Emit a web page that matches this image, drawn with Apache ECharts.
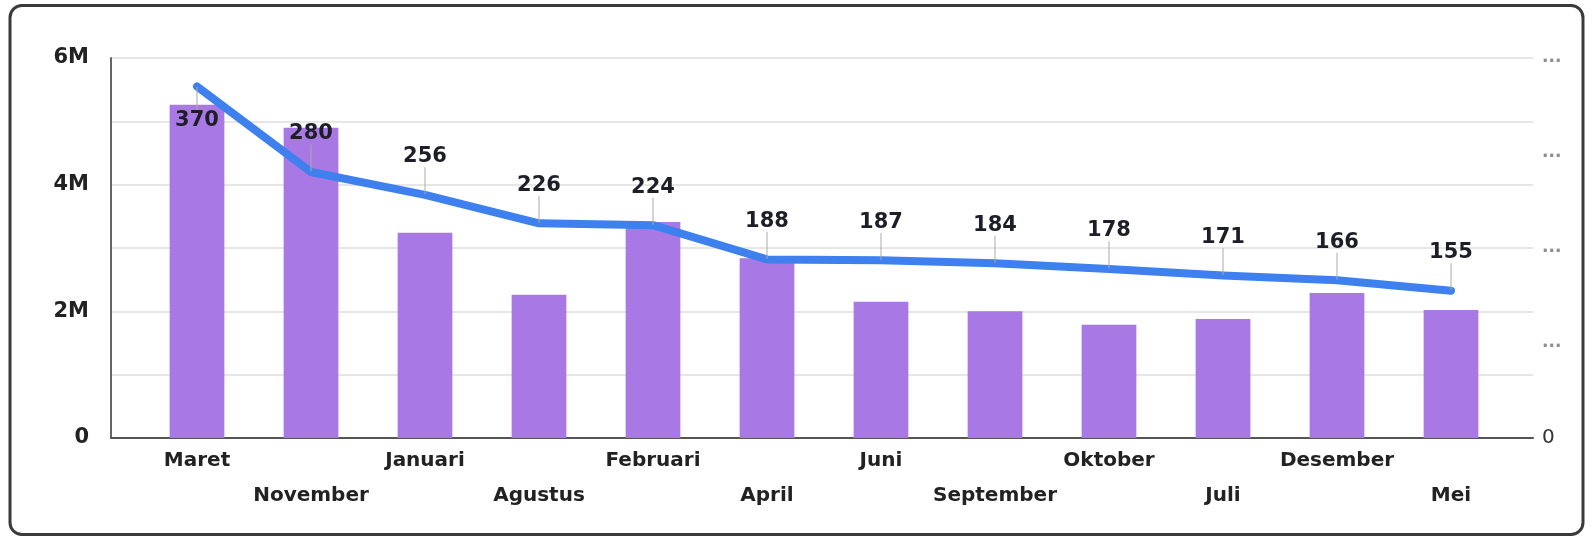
<!DOCTYPE html>
<html>
<head>
<meta charset="utf-8">
<script src="https://cdn.jsdelivr.net/npm/echarts@6/dist/echarts.min.js"></script>
<style>
    html, body { margin: 0; padding: 0; background: #fff; }
    #chart { width: 1594px; height: 541px; }
</style>
</head>
<body>
<div id="chart"></div>
<script>
// bulan, diurutkan menurut jumlah
var categories = ['Maret', 'November', 'Januari', 'Agustus', 'Februari', 'April',
    'Juni', 'September', 'Oktober', 'Juli', 'Desember', 'Mei'];
// batang (sumbu kiri)
var barValues = [5260000, 4900000, 3240000, 2260000, 3410000, 2840000,
    2150000, 2000000, 1790000, 1880000, 2290000, 2020000];
// garis (sumbu kanan)
var lineValues = [370, 280, 256, 226, 224, 188, 187, 184, 178, 171, 166, 155];
var leftTicks = [0, 1000000, 2000000, 3000000, 4000000, 5000000, 6000000];
var rightTicks = [0, 100, 200, 300, 400];

var font = "'DejaVu Sans', 'Liberation Sans', sans-serif";
var chart = echarts.init(document.getElementById('chart'));

var option = {
    backgroundColor: '#fff',
    animation: false,
    graphic: [{
        type: 'rect',
        shape: { x: 10, y: 5.5, width: 1573, height: 529, r: 12 },
        style: { fill: 'none', stroke: '#3a3a3a', lineWidth: 3 },
        silent: true,
        z: -1
    }],
    grid: [
        { left: 111, right: 61, top: 58, bottom: 103 },
        { left: 140, right: 86, top: 58, bottom: 103 }
    ],
    xAxis: [
        {
            gridIndex: 0,
            type: 'value',
            min: 0,
            max: 1,
            axisLine: { show: true, lineStyle: { color: '#555', width: 2 } },
            axisTick: { show: false },
            axisLabel: { show: false },
            splitLine: { show: false }
        },
        {
            gridIndex: 1,
            type: 'category',
            data: categories,
            axisLine: { show: false },
            axisTick: { show: false },
            axisLabel: {
                interval: 0,
                margin: 5,
                lineHeight: 35,
                color: '#222',
                fontFamily: font,
                fontWeight: 'bold',
                fontSize: 20,
                formatter: function (v, i) {
                    return i % 2 ? '\n' + v : v;
                }
            }
        }
    ],
    yAxis: [
        {
            gridIndex: 0,
            type: 'value',
            min: leftTicks[0],
            max: leftTicks[leftTicks.length - 1],
            interval: 1000000,
            axisLine: { show: true, lineStyle: { color: '#666', width: 2 } },
            axisTick: { show: false },
            axisLabel: {
                margin: 22,
                color: '#222',
                fontFamily: font,
                fontWeight: 'bold',
                fontSize: 21,
                formatter: function (v) {
                    if (v % 2000000 !== 0) return '';
                    return v === 0 ? '0' : (v / 1000000) + 'M';
                }
            },
            splitLine: { show: true, lineStyle: { color: '#e6e6e6', width: 2 } }
        },
        {
            gridIndex: 0,
            type: 'value',
            position: 'right',
            min: rightTicks[0],
            max: rightTicks[rightTicks.length - 1],
            interval: 100,
            axisLine: { show: false },
            axisTick: { show: false },
            splitLine: { show: false },
            axisLabel: {
                margin: 9,
                fontFamily: font,
                formatter: function (v) {
                    return v === 0 ? '{z|0}' : '{d|...}';
                },
                rich: {
                    z: { color: '#333', fontSize: 20, fontFamily: font },
                    d: { color: '#8c8c8c', fontSize: 17, fontWeight: 'bold', fontFamily: font }
                }
            }
        },
        { gridIndex: 1, type: 'value', min: 0, max: 6000000, show: false },
        { gridIndex: 1, type: 'value', min: 0, max: 400, show: false }
    ],
    series: [
        {
            type: 'bar',
            xAxisIndex: 1,
            yAxisIndex: 2,
            data: barValues,
            barWidth: '48%',
            itemStyle: { color: '#a878e4' }
        },
        {
            type: 'line',
            xAxisIndex: 1,
            yAxisIndex: 3,
            data: lineValues,
            showSymbol: true,
            symbol: 'circle',
            symbolSize: 1,
            itemStyle: { color: '#3d80ee' },
            lineStyle: { color: '#3d80ee', width: 8, cap: 'round', join: 'round' },
            z: 5,
            label: {
                show: true,
                position: 'top',
                distance: 5,
                color: '#1e1e28',
                fontFamily: font,
                fontWeight: 'bold',
                fontSize: 21
            },
            labelLine: { show: true, lineStyle: { color: '#aaa', width: 1 } },
            labelLayout: function (params) {
                return params.dataIndex === 0 ? { dy: 50 } : { dy: -22 };
            }
        }
    ]
};

chart.setOption(option);
</script>
</body>
</html>
